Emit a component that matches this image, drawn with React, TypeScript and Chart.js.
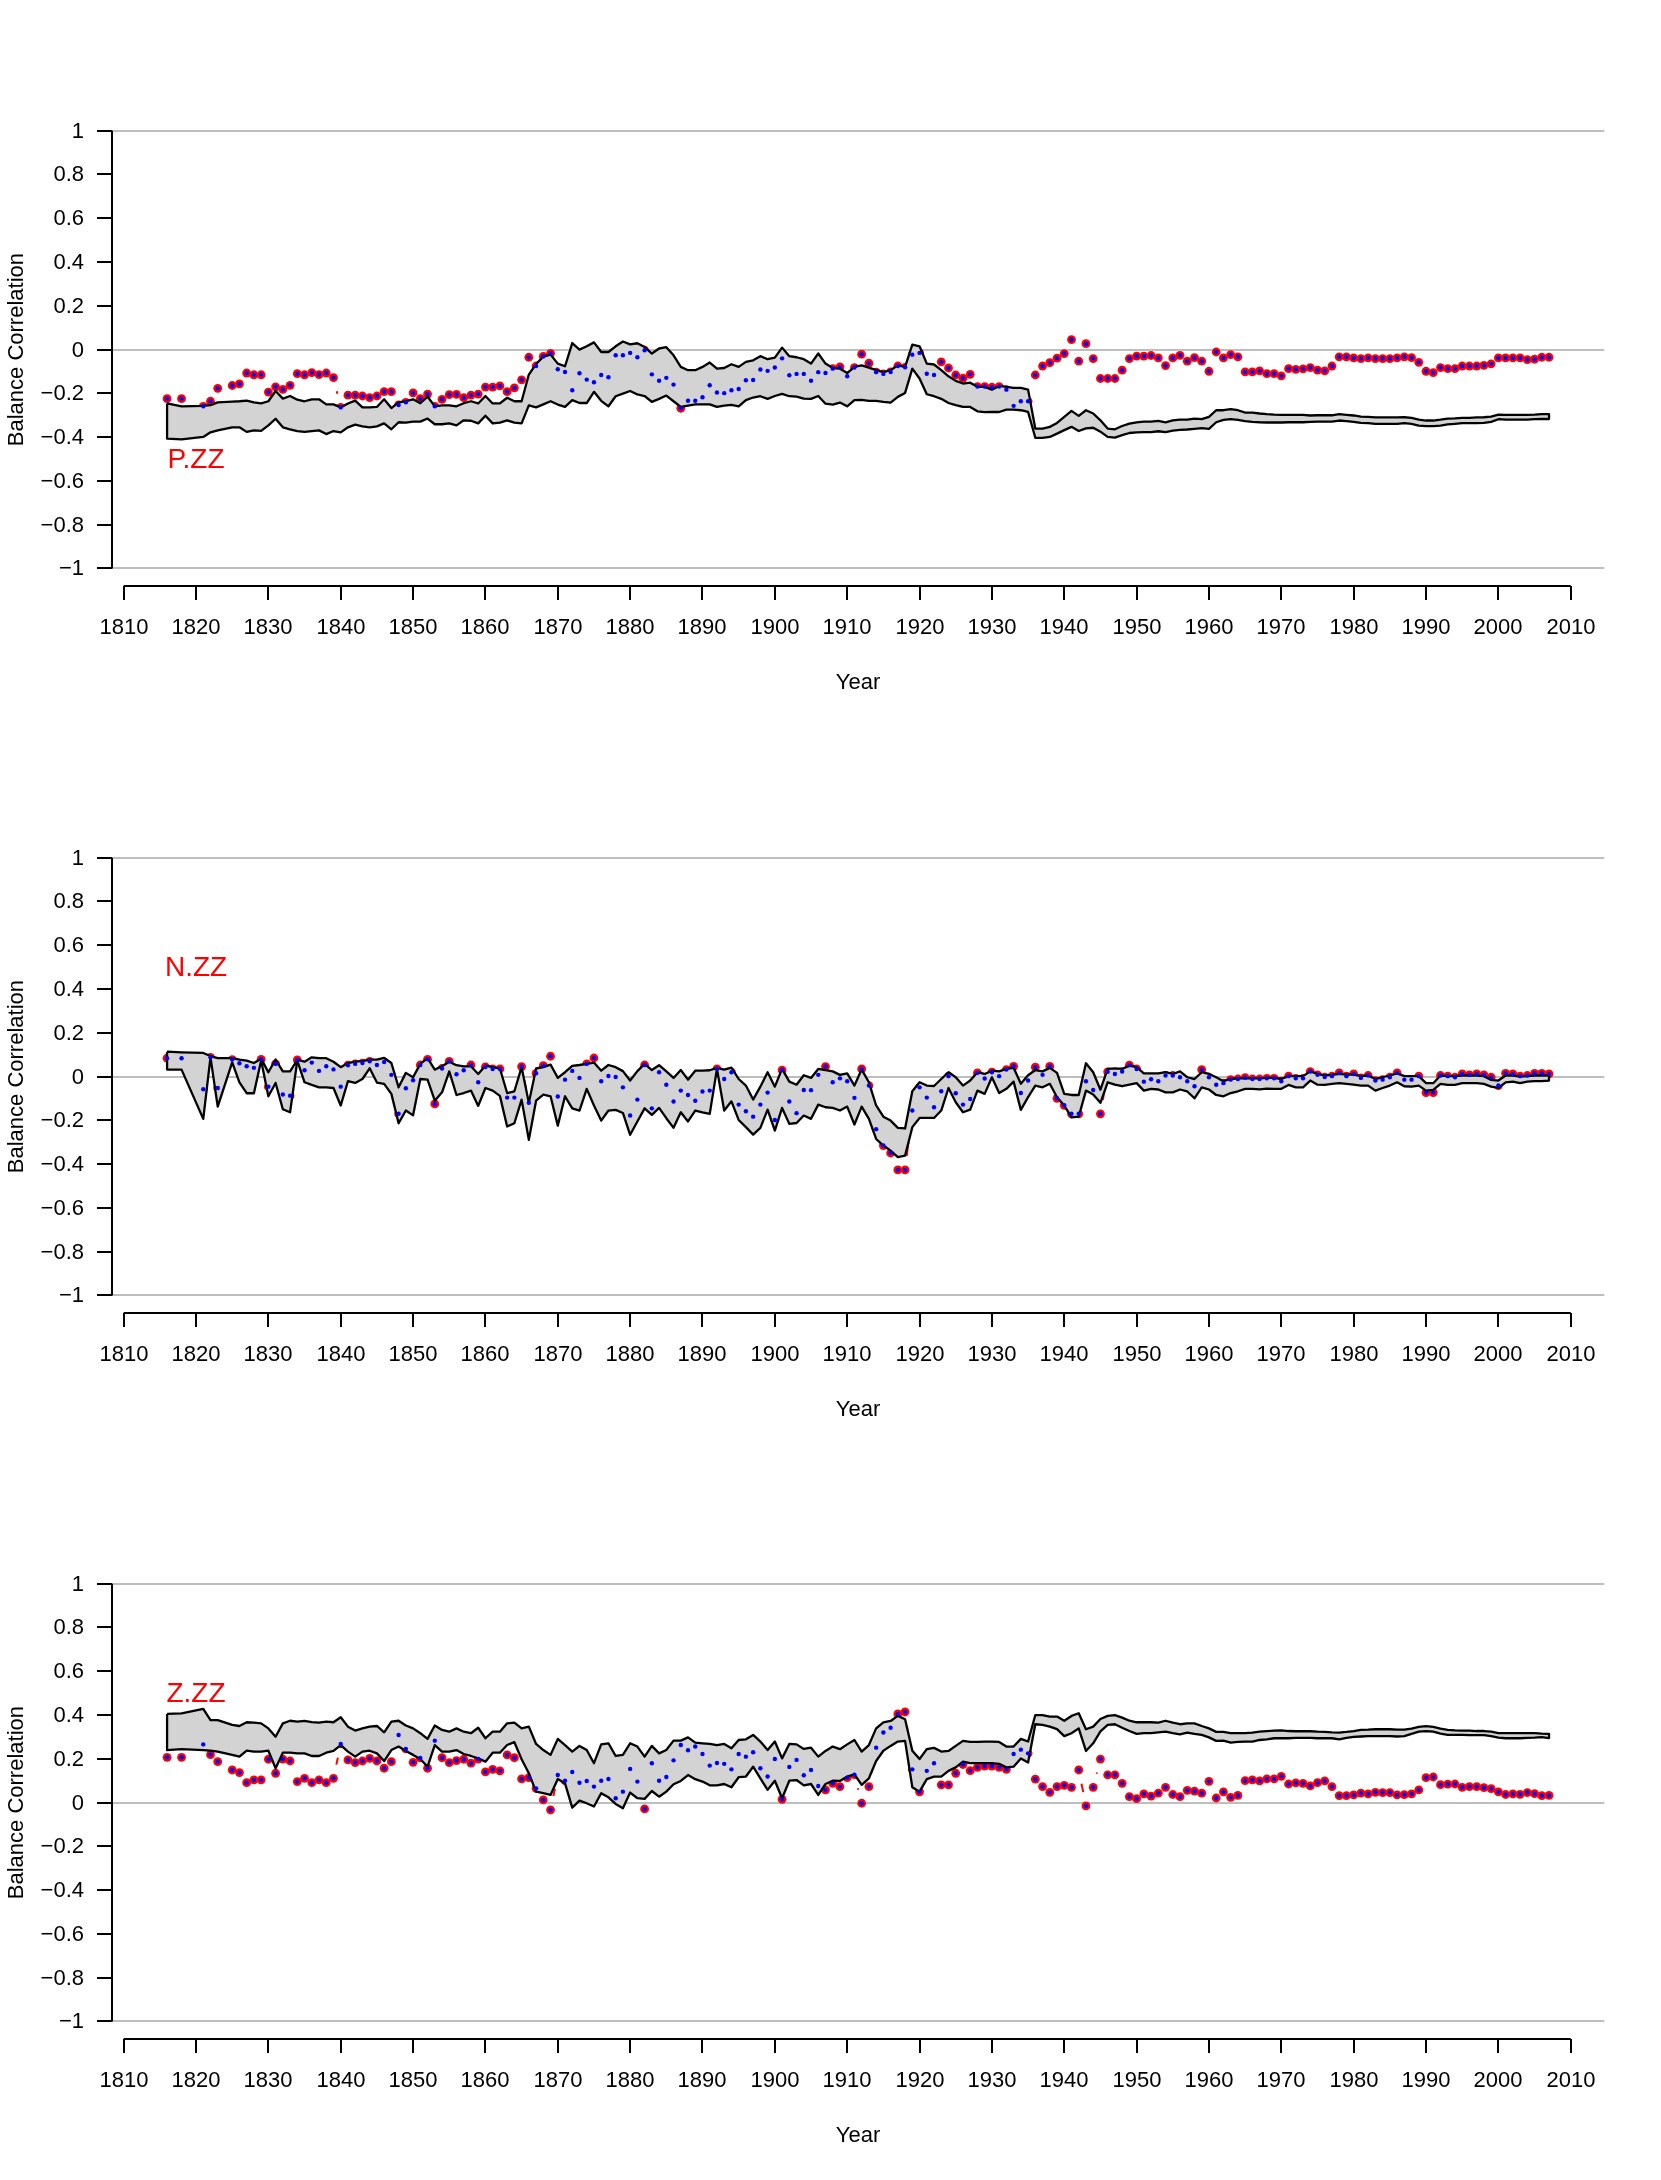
import React, { useEffect, useRef } from "react";
import { Chart, registerables } from "chart.js";

Chart.register(...registerables);

// ---------- categories / ticks ----------
const FIRST_YEAR = 1816;
const LAST_YEAR = 2007;
const YEARS: number[] = Array.from({ length: LAST_YEAR - FIRST_YEAR + 1 }, (_, i) => FIRST_YEAR + i);
const X_TICKS = [1810, 1820, 1830, 1840, 1850, 1860, 1870, 1880, 1890, 1900, 1910, 1920, 1930, 1940, 1950, 1960, 1970, 1980, 1990, 2000, 2010];
const Y_TICKS = [1, 0.8, 0.6, 0.4, 0.2, 0, -0.2, -0.4, -0.6, -0.8, -1];
const Y_TICK_LABELS = ["1", "0.8", "0.6", "0.4", "0.2", "0", "\u22120.2", "\u22120.4", "\u22120.6", "\u22120.8", "\u22121"];
const GRID_VALUES = [1, 0, -1];

// ---------- P.ZZ ----------
const pZZ_values = [
  -0.224, null, -0.224, null,
  null, -0.259, -0.236, -0.177, null, -0.164, -0.157, -0.107, -0.115, -0.115,
  -0.194, -0.170, -0.182, -0.163, -0.110, -0.115, -0.105, -0.114, -0.107, -0.128,
  -0.264, -0.208, -0.208, -0.212, -0.219, -0.212, -0.192, -0.192, -0.253, -0.241,
  -0.198, -0.224, -0.203, -0.259, -0.227, -0.206, -0.205, -0.220, -0.208, -0.203,
  -0.171, -0.171, -0.166, -0.192, -0.175, -0.138, -0.035, -0.075, -0.031, -0.017,
  -0.090, -0.102, -0.186, -0.108, -0.137, -0.149, -0.116, -0.126, -0.026, -0.026,
  -0.015, -0.035, -0.003, -0.113, -0.142, -0.129, -0.160, -0.268, -0.234, -0.234,
  -0.218, -0.163, -0.196, -0.199, -0.186, -0.180, -0.140, -0.139, -0.091, -0.097,
  -0.082, -0.040, -0.117, -0.111, -0.111, -0.142, -0.103, -0.107, -0.087, -0.079,
  -0.122, -0.082, -0.021, -0.062, -0.103, -0.111, -0.102, -0.075, -0.081, -0.023,
  -0.015, -0.110, -0.116, -0.056, -0.084, -0.116, -0.131, -0.113, -0.169, -0.169,
  -0.172, -0.169, -0.183, -0.257, -0.236, -0.236, -0.116, -0.075, -0.060, -0.039,
  -0.018, 0.046, -0.053, 0.027, -0.041, -0.132, -0.132, -0.132, -0.094, -0.041,
  -0.030, -0.030, -0.027, -0.038, -0.073, -0.038, -0.026, -0.053, -0.037, -0.053,
  -0.099, -0.011, -0.038, -0.023, -0.033, -0.102, -0.102, -0.097, -0.110, -0.110,
  -0.120, -0.087, -0.090, -0.088, -0.082, -0.094, -0.097, -0.075, -0.033, -0.033,
  -0.038, -0.041, -0.038, -0.041, -0.041, -0.041, -0.038, -0.033, -0.037, -0.058,
  -0.099, -0.105, -0.082, -0.087, -0.087, -0.075, -0.075, -0.075, -0.072, -0.065,
  -0.038, -0.038, -0.038, -0.038, -0.046, -0.044, -0.035, -0.035,
];
const pZZ_upper = [
  -0.246, null, -0.259, null,
  null, -0.257, -0.254, -0.241, null, -0.238, -0.236, -0.233, -0.241, -0.246,
  -0.236, -0.189, -0.224, -0.212, -0.229, -0.236, -0.227, -0.227, -0.250, -0.250,
  -0.264, -0.246, -0.233, -0.264, -0.264, -0.262, -0.227, -0.267, -0.241, -0.236,
  -0.227, -0.245, -0.215, -0.259, -0.255, -0.255, -0.259, -0.245, -0.236, -0.246,
  -0.212, -0.246, -0.246, -0.220, -0.236, -0.236, -0.114, -0.066, -0.032, -0.023,
  -0.064, -0.076, 0.030, 0.000, 0.015, 0.033, -0.011, -0.011, 0.015, 0.037,
  0.024, 0.029, 0.012, -0.018, 0.005, 0.011, -0.026, -0.079, -0.094, -0.094,
  -0.079, -0.059, -0.087, -0.084, -0.067, -0.079, -0.056, -0.049, -0.030, -0.044,
  -0.037, 0.009, -0.030, -0.035, -0.044, -0.064, -0.018, -0.064, -0.084, -0.087,
  -0.107, -0.079, -0.072, -0.082, -0.094, -0.103, -0.094, -0.072, -0.079, 0.023,
  0.015, -0.064, -0.068, -0.094, -0.122, -0.143, -0.155, -0.151, -0.170, -0.170,
  -0.183, -0.166, -0.170, -0.175, -0.175, -0.183, -0.361, -0.361, -0.353, -0.335,
  -0.307, -0.280, -0.303, -0.277, -0.292, -0.323, -0.361, -0.364, -0.349, -0.338,
  -0.332, -0.329, -0.329, -0.326, -0.332, -0.323, -0.320, -0.320, -0.315, -0.318,
  -0.307, -0.277, -0.277, -0.272, -0.277, -0.288, -0.288, -0.292, -0.295, -0.297,
  -0.298, -0.298, -0.298, -0.298, -0.301, -0.300, -0.300, -0.300, -0.295, -0.298,
  -0.301, -0.306, -0.307, -0.310, -0.310, -0.310, -0.310, -0.309, -0.312, -0.320,
  -0.324, -0.324, -0.320, -0.315, -0.314, -0.312, -0.312, -0.310, -0.309, -0.306,
  -0.297, -0.298, -0.298, -0.298, -0.298, -0.297, -0.295, -0.295,
];
const pZZ_lower = [
  -0.407, null, -0.410, null,
  null, -0.399, -0.378, -0.369, null, -0.355, -0.355, -0.376, -0.369, -0.371,
  -0.346, -0.316, -0.355, -0.364, -0.372, -0.376, -0.372, -0.369, -0.386, -0.372,
  -0.378, -0.355, -0.343, -0.351, -0.355, -0.351, -0.337, -0.364, -0.332, -0.334,
  -0.329, -0.329, -0.315, -0.341, -0.341, -0.337, -0.346, -0.323, -0.325, -0.337,
  -0.302, -0.337, -0.334, -0.323, -0.334, -0.337, -0.255, -0.264, -0.250, -0.236,
  -0.251, -0.262, -0.231, -0.244, -0.244, -0.193, -0.234, -0.259, -0.213, -0.201,
  -0.189, -0.205, -0.212, -0.239, -0.225, -0.210, -0.236, -0.262, -0.256, -0.250,
  -0.250, -0.250, -0.262, -0.256, -0.253, -0.259, -0.231, -0.219, -0.213, -0.225,
  -0.212, -0.202, -0.213, -0.215, -0.224, -0.225, -0.212, -0.247, -0.251, -0.242,
  -0.259, -0.231, -0.230, -0.234, -0.234, -0.239, -0.242, -0.216, -0.198, -0.087,
  -0.132, -0.204, -0.213, -0.225, -0.244, -0.254, -0.262, -0.262, -0.282, -0.286,
  -0.285, -0.285, -0.274, -0.274, -0.277, -0.285, -0.403, -0.403, -0.399, -0.384,
  -0.368, -0.353, -0.372, -0.360, -0.357, -0.375, -0.399, -0.402, -0.391, -0.381,
  -0.378, -0.377, -0.377, -0.373, -0.377, -0.370, -0.367, -0.365, -0.362, -0.359,
  -0.362, -0.332, -0.321, -0.318, -0.321, -0.327, -0.330, -0.332, -0.333, -0.333,
  -0.333, -0.332, -0.332, -0.332, -0.330, -0.329, -0.329, -0.329, -0.324, -0.327,
  -0.330, -0.335, -0.336, -0.339, -0.339, -0.339, -0.339, -0.336, -0.339, -0.347,
  -0.350, -0.350, -0.347, -0.342, -0.339, -0.336, -0.336, -0.336, -0.335, -0.330,
  -0.318, -0.320, -0.320, -0.320, -0.320, -0.318, -0.317, -0.317,
];

// ---------- N.ZZ ----------
const nZZ_values = [
  0.084, null, 0.084, null,
  null, -0.058, 0.088, -0.052, null, 0.078, 0.061, 0.047, 0.040, 0.079,
  -0.046, 0.058, -0.082, -0.087, 0.076, 0.029, 0.064, 0.026, 0.047, 0.033,
  -0.046, 0.052, 0.058, 0.062, 0.070, 0.053, 0.067, 0.008, -0.170, -0.053,
  -0.017, 0.053, 0.079, -0.125, 0.037, 0.070, 0.011, 0.029, 0.053, -0.026,
  0.044, 0.035, 0.035, -0.096, -0.096, 0.046, -0.120, 0.015, 0.050, 0.093,
  -0.091, -0.014, 0.026, -0.006, 0.058, 0.085, -0.021, 0.003, -0.002, -0.049,
  -0.178, -0.105, 0.053, -0.145, 0.020, -0.037, -0.114, -0.064, -0.084, -0.110,
  -0.068, -0.064, 0.035, -0.011, 0.020, -0.128, -0.158, -0.183, -0.128, -0.073,
  -0.198, 0.030, -0.114, -0.167, -0.061, -0.062, 0.008, 0.046, -0.026, -0.008,
  -0.021, -0.097, 0.035, -0.041, -0.240, -0.315, -0.349, -0.426, -0.426, -0.155,
  -0.049, -0.096, -0.140, -0.067, 0.002, -0.076, -0.128, -0.102, 0.017, -0.009,
  0.020, 0.002, 0.032, 0.047, -0.075, -0.018, 0.043, 0.008, 0.047, -0.099,
  -0.131, -0.170, -0.170, -0.021, -0.061, -0.170, 0.022, 0.012, 0.023, 0.052,
  0.035, -0.023, -0.012, -0.021, 0.005, 0.005, -0.003, -0.021, -0.044, 0.032,
  -0.003, -0.037, -0.030, -0.014, -0.011, -0.005, -0.011, -0.011, -0.008, -0.008,
  -0.021, 0.002, -0.008, -0.008, 0.023, 0.008, -0.002, 0.002, 0.017, 0.002,
  0.012, -0.006, 0.005, -0.018, -0.014, -0.003, 0.017, -0.014, -0.014, 0.002,
  -0.073, -0.073, 0.005, 0.002, -0.003, 0.012, 0.008, 0.012, 0.008, -0.003,
  -0.041, 0.015, 0.012, 0.002, 0.005, 0.015, 0.015, 0.012,
];
const nZZ_upper = [
  0.114, null, 0.111, null,
  null, 0.108, 0.094, 0.084, null, 0.084, 0.078, 0.073, 0.062, 0.082,
  0.020, 0.078, 0.024, 0.024, 0.076, 0.068, 0.088, 0.084, 0.084, 0.068,
  0.043, 0.062, 0.068, 0.071, 0.078, 0.078, 0.085, 0.062, -0.049, 0.017,
  -0.003, 0.058, 0.084, 0.032, 0.047, 0.068, 0.052, 0.047, 0.047, 0.012,
  0.050, 0.043, 0.037, -0.075, -0.067, 0.043, -0.120, 0.037, 0.043, 0.055,
  -0.006, 0.020, 0.049, 0.053, 0.058, 0.064, 0.027, 0.053, 0.043, 0.025,
  -0.018, 0.025, 0.058, 0.030, 0.052, 0.024, -0.006, 0.030, -0.014, 0.027,
  0.027, 0.029, 0.040, 0.032, 0.041, -0.011, -0.041, -0.105, -0.046, 0.020,
  -0.046, 0.035, -0.023, -0.037, 0.006, -0.006, 0.035, 0.030, 0.024, 0.008,
  0.015, -0.041, 0.032, -0.026, -0.132, -0.183, -0.201, -0.234, -0.237, -0.067,
  -0.026, -0.041, -0.043, -0.011, 0.020, -0.003, -0.041, -0.018, 0.020, 0.012,
  0.027, 0.024, 0.035, 0.040, -0.033, 0.006, 0.030, 0.024, 0.040, 0.017,
  -0.079, -0.084, -0.084, 0.061, 0.020, -0.060, 0.035, 0.038, 0.035, 0.050,
  0.043, 0.015, 0.015, 0.015, 0.020, 0.012, 0.024, -0.003, -0.011, 0.020,
  0.012, -0.003, -0.021, -0.011, -0.008, -0.008, -0.008, -0.008, -0.006, -0.006,
  -0.011, 0.002, 0.002, 0.002, 0.024, 0.012, 0.005, 0.008, 0.012, 0.009,
  0.009, 0.002, 0.005, -0.011, -0.003, 0.005, 0.015, 0.002, 0.002, 0.002,
  -0.030, -0.030, 0.005, 0.002, 0.002, 0.005, 0.005, 0.005, 0.002, -0.015,
  -0.018, 0.005, 0.005, 0.000, 0.002, 0.005, 0.005, 0.005,
];
const nZZ_lower = [
  0.032, null, 0.032, null,
  null, -0.193, 0.088, -0.137, null, 0.065, -0.026, -0.076, -0.076, 0.073,
  -0.090, -0.029, -0.149, -0.163, 0.073, -0.026, -0.038, -0.049, -0.049, -0.052,
  -0.132, -0.021, -0.029, -0.011, 0.038, -0.027, -0.033, -0.079, -0.213, -0.155,
  -0.177, -0.011, -0.014, -0.110, -0.072, 0.024, -0.084, -0.075, -0.064, -0.134,
  -0.052, -0.064, -0.088, -0.228, -0.213, -0.105, -0.289, -0.110, -0.082, -0.090,
  -0.224, -0.090, -0.145, -0.155, -0.056, -0.132, -0.201, -0.155, -0.152, -0.166,
  -0.266, -0.205, -0.145, -0.175, -0.143, -0.190, -0.234, -0.163, -0.205, -0.155,
  -0.163, -0.170, 0.035, -0.155, -0.113, -0.198, -0.231, -0.265, -0.234, -0.151,
  -0.247, -0.143, -0.216, -0.212, -0.178, -0.193, -0.128, -0.140, -0.143, -0.155,
  -0.137, -0.219, -0.137, -0.193, -0.285, -0.315, -0.338, -0.368, -0.361, -0.231,
  -0.189, -0.189, -0.189, -0.155, -0.052, -0.117, -0.163, -0.151, -0.064, -0.079,
  -0.003, -0.075, -0.056, -0.023, -0.152, -0.094, -0.041, -0.049, -0.033, -0.094,
  -0.132, -0.186, -0.183, -0.064, -0.082, -0.120, -0.026, -0.037, -0.044, -0.037,
  -0.030, -0.064, -0.056, -0.059, -0.072, -0.072, -0.059, -0.068, -0.099, -0.049,
  -0.059, -0.084, -0.090, -0.075, -0.067, -0.056, -0.056, -0.058, -0.055, -0.056,
  -0.056, -0.038, -0.049, -0.049, -0.018, -0.037, -0.038, -0.033, -0.030, -0.033,
  -0.037, -0.041, -0.041, -0.064, -0.052, -0.041, -0.026, -0.044, -0.046, -0.041,
  -0.064, -0.061, -0.033, -0.038, -0.038, -0.030, -0.030, -0.030, -0.033, -0.046,
  -0.052, -0.026, -0.023, -0.030, -0.023, -0.021, -0.021, -0.018,
];

// ---------- Z.ZZ ----------
const zZZ_values = [
  0.207, null, 0.207, null,
  null, 0.266, 0.219, 0.187, null, 0.149, 0.137, 0.091, 0.104, 0.104,
  0.198, 0.134, 0.199, 0.190, 0.096, 0.111, 0.091, 0.104, 0.091, 0.111,
  0.268, 0.195, 0.183, 0.190, 0.202, 0.190, 0.157, 0.187, 0.309, 0.245,
  0.184, 0.204, 0.157, 0.283, 0.205, 0.183, 0.192, 0.198, 0.180, 0.199,
  0.140, 0.152, 0.145, 0.218, 0.205, 0.108, 0.114, 0.065, 0.012, -0.033,
  0.126, 0.100, 0.140, 0.091, 0.099, 0.073, 0.100, 0.108, 0.020, 0.050,
  0.154, 0.096, -0.029, 0.180, 0.100, 0.117, 0.193, 0.263, 0.239, 0.256,
  0.222, 0.169, 0.181, 0.177, 0.152, 0.222, 0.210, 0.230, 0.157, 0.119,
  0.199, 0.015, 0.163, 0.195, 0.125, 0.149, 0.076, 0.058, 0.088, 0.073,
  0.114, 0.128, -0.003, 0.073, 0.251, 0.320, 0.342, 0.405, 0.414, 0.152,
  0.049, 0.145, 0.180, 0.081, 0.081, 0.134, 0.174, 0.146, 0.161, 0.167,
  0.167, 0.161, 0.152, 0.222, 0.242, 0.225, 0.107, 0.073, 0.047, 0.073,
  0.079, 0.070, 0.149, -0.015, 0.070, 0.199, 0.127, 0.127, 0.088, 0.027,
  0.018, 0.040, 0.030, 0.043, 0.070, 0.037, 0.027, 0.056, 0.052, 0.043,
  0.097, 0.021, 0.049, 0.024, 0.033, 0.100, 0.104, 0.099, 0.108, 0.108,
  0.120, 0.085, 0.090, 0.088, 0.076, 0.091, 0.099, 0.073, 0.032, 0.032,
  0.035, 0.043, 0.040, 0.047, 0.046, 0.046, 0.035, 0.036, 0.040, 0.058,
  0.114, 0.117, 0.082, 0.084, 0.085, 0.070, 0.073, 0.073, 0.068, 0.064,
  0.049, 0.037, 0.040, 0.038, 0.046, 0.041, 0.032, 0.033,
];
const zZZ_upper = [
  0.405, null, 0.408, null,
  null, 0.428, 0.377, 0.377, null, 0.355, 0.350, 0.367, 0.365, 0.362,
  0.339, 0.301, 0.362, 0.374, 0.370, 0.373, 0.368, 0.365, 0.370, 0.367,
  0.390, 0.347, 0.329, 0.339, 0.347, 0.350, 0.321, 0.370, 0.374, 0.352,
  0.339, 0.317, 0.291, 0.352, 0.332, 0.324, 0.339, 0.324, 0.317, 0.342,
  0.294, 0.324, 0.324, 0.362, 0.365, 0.339, 0.347, 0.268, 0.240, 0.218,
  0.291, 0.263, 0.233, 0.259, 0.240, 0.180, 0.266, 0.271, 0.213, 0.218,
  0.271, 0.256, 0.210, 0.259, 0.225, 0.240, 0.283, 0.283, 0.298, 0.274,
  0.271, 0.268, 0.263, 0.268, 0.248, 0.286, 0.289, 0.309, 0.279, 0.240,
  0.279, 0.202, 0.268, 0.266, 0.245, 0.251, 0.210, 0.236, 0.256, 0.244,
  0.266, 0.286, 0.233, 0.263, 0.339, 0.367, 0.373, 0.396, 0.381, 0.237,
  0.199, 0.244, 0.250, 0.233, 0.236, 0.259, 0.282, 0.277, 0.277, 0.279,
  0.279, 0.277, 0.256, 0.256, 0.291, 0.279, 0.400, 0.400, 0.393, 0.393,
  0.374, 0.396, 0.408, 0.335, 0.347, 0.382, 0.396, 0.400, 0.388, 0.374,
  0.367, 0.368, 0.367, 0.365, 0.374, 0.365, 0.358, 0.362, 0.362, 0.350,
  0.339, 0.323, 0.323, 0.317, 0.317, 0.317, 0.320, 0.324, 0.327, 0.329,
  0.330, 0.327, 0.326, 0.326, 0.326, 0.324, 0.323, 0.321, 0.320, 0.323,
  0.327, 0.332, 0.333, 0.335, 0.335, 0.335, 0.333, 0.333, 0.338, 0.346,
  0.349, 0.346, 0.338, 0.332, 0.330, 0.329, 0.329, 0.327, 0.327, 0.324,
  0.317, 0.317, 0.317, 0.317, 0.317, 0.317, 0.315, 0.314,
];
const zZZ_lower = [
  0.240, null, 0.244, null,
  null, 0.240, 0.237, 0.233, null, 0.218, 0.210, 0.237, 0.233, 0.233,
  0.237, 0.157, 0.228, 0.228, 0.225, 0.225, 0.213, 0.213, 0.228, 0.236,
  0.263, 0.233, 0.210, 0.233, 0.237, 0.225, 0.190, 0.240, 0.256, 0.236,
  0.218, 0.199, 0.164, 0.263, 0.233, 0.233, 0.240, 0.222, 0.213, 0.202,
  0.187, 0.228, 0.228, 0.263, 0.276, 0.198, 0.134, 0.050, 0.043, 0.035,
  0.108, 0.088, -0.023, 0.009, -0.003, -0.018, 0.043, 0.024, -0.006, -0.026,
  0.046, 0.020, 0.017, 0.053, 0.027, 0.050, 0.084, 0.099, 0.126, 0.107,
  0.096, 0.079, 0.079, 0.085, 0.070, 0.116, 0.119, 0.164, 0.111, 0.058,
  0.100, 0.020, 0.100, 0.103, 0.079, 0.085, 0.035, 0.085, 0.100, 0.099,
  0.119, 0.129, 0.081, 0.111, 0.190, 0.237, 0.259, 0.279, 0.282, 0.070,
  0.050, 0.107, 0.119, 0.119, 0.145, 0.161, 0.187, 0.180, 0.180, 0.180,
  0.180, 0.177, 0.161, 0.164, 0.202, 0.183, 0.358, 0.355, 0.347, 0.336,
  0.304, 0.317, 0.339, 0.236, 0.271, 0.325, 0.355, 0.358, 0.342, 0.327,
  0.314, 0.317, 0.317, 0.321, 0.324, 0.317, 0.312, 0.320, 0.314, 0.309,
  0.298, 0.282, 0.283, 0.274, 0.277, 0.279, 0.279, 0.286, 0.289, 0.294,
  0.294, 0.294, 0.296, 0.296, 0.296, 0.294, 0.294, 0.294, 0.289, 0.296,
  0.300, 0.302, 0.304, 0.304, 0.304, 0.304, 0.302, 0.304, 0.314, 0.324,
  0.327, 0.324, 0.315, 0.309, 0.309, 0.309, 0.308, 0.308, 0.308, 0.304,
  0.297, 0.294, 0.294, 0.294, 0.296, 0.297, 0.299, 0.295,
];

const PANELS = [
  { name: "P.ZZ", nameY: -0.5, values: pZZ_values, upper: pZZ_upper, lower: pZZ_lower },
  { name: "N.ZZ", nameY: 0.5, values: nZZ_values, upper: nZZ_upper, lower: nZZ_lower },
  { name: "Z.ZZ", nameY: 0.5, values: zZZ_values, upper: zZZ_upper, lower: zZZ_lower },
];

const W = 1661;
const PANEL_H = 727;
const FONT = '"Liberation Sans", Arial, Helvetica, sans-serif';
const BAND_FILL = "#D3D3D3";
const GRID_COLOR = "#BEBEBE";

type Pt = { x: number; y: number };

function toPoints(arr: (number | null)[]): Pt[] {
  const out: Pt[] = [];
  YEARS.forEach((yr, i) => {
    const v = arr[i];
    if (v !== null && v !== undefined) out.push({ x: yr, y: v });
  });
  return out;
}

function Panel({ panel, top }: { panel: any; top: number }) {
  const ref = useRef<HTMLCanvasElement | null>(null);

  useEffect(() => {
    const canvas = ref.current;
    if (!canvas) return;
    const vals = toPoints(panel.values);
    const ups = toPoints(panel.upper);
    const los = toPoints(panel.lower);
    const outline = [...ups, ...los.slice().reverse(), ups[0]];

    const decor = {
      id: "decor",
      beforeDatasetsDraw(chart: any) {
        const { ctx, chartArea: a, scales } = chart;
        const x = scales.x;
        const y = scales.y;
        ctx.save();
        // horizontal reference lines
        ctx.strokeStyle = GRID_COLOR;
        ctx.lineWidth = 2;
        GRID_VALUES.forEach((v) => {
          const py = Math.round(y.getPixelForValue(v));
          ctx.beginPath();
          ctx.moveTo(a.left, py);
          ctx.lineTo(a.right, py);
          ctx.stroke();
        });
        // red "type b" connectors (gaps around each point)
        const GAP = 14;
        ctx.strokeStyle = "#FF0000";
        ctx.lineWidth = 2;
        for (let i = 1; i < YEARS.length; i++) {
          const v0 = panel.values[i - 1];
          const v1 = panel.values[i];
          if (v0 === null || v1 === null) continue;
          const x0 = x.getPixelForValue(YEARS[i - 1]);
          const y0 = y.getPixelForValue(v0);
          const x1 = x.getPixelForValue(YEARS[i]);
          const y1 = y.getPixelForValue(v1);
          const dx = x1 - x0;
          const dy = y1 - y0;
          const len = Math.hypot(dx, dy);
          if (len <= 2 * GAP) continue;
          const ux = dx / len;
          const uy = dy / len;
          ctx.beginPath();
          ctx.moveTo(x0 + ux * GAP, y0 + uy * GAP);
          ctx.lineTo(x1 - ux * GAP, y1 - uy * GAP);
          ctx.stroke();
        }
        ctx.restore();
      },
      afterDraw(chart: any) {
        const { ctx, chartArea: a, scales } = chart;
        const x = scales.x;
        const y = scales.y;
        ctx.save();
        ctx.strokeStyle = "#000";
        ctx.fillStyle = "#000";
        ctx.lineWidth = 2;
        // y axis
        const yTop = y.getPixelForValue(1);
        const yBot = y.getPixelForValue(-1);
        const ax = Math.round(a.left);
        ctx.beginPath();
        ctx.moveTo(ax, yTop);
        ctx.lineTo(ax, yBot);
        ctx.stroke();
        ctx.font = `22px ${FONT}`;
        ctx.textAlign = "right";
        ctx.textBaseline = "middle";
        Y_TICKS.forEach((v, i) => {
          const py = Math.round(y.getPixelForValue(v));
          ctx.beginPath();
          ctx.moveTo(ax - 15, py);
          ctx.lineTo(ax, py);
          ctx.stroke();
          ctx.fillText(Y_TICK_LABELS[i], ax - 28, py + 1);
        });
        // x axis
        const by = Math.round(a.bottom);
        const xl = x.getPixelForValue(X_TICKS[0]);
        const xr = x.getPixelForValue(X_TICKS[X_TICKS.length - 1]);
        ctx.beginPath();
        ctx.moveTo(xl, by);
        ctx.lineTo(xr, by);
        ctx.stroke();
        ctx.textAlign = "center";
        X_TICKS.forEach((v) => {
          const px = Math.round(x.getPixelForValue(v));
          ctx.beginPath();
          ctx.moveTo(px, by);
          ctx.lineTo(px, by + 14);
          ctx.stroke();
          ctx.fillText(String(v), px, by + 42);
        });
        // axis titles
        ctx.fillText("Year", (a.left + a.right) / 2, by + 97);
        ctx.save();
        ctx.translate(17, (a.top + a.bottom) / 2);
        ctx.rotate(-Math.PI / 2);
        ctx.fillText("Balance Correlation", 0, 0);
        ctx.restore();
        // panel label
        ctx.fillStyle = "#FF0000";
        ctx.font = `28px ${FONT}`;
        ctx.fillText(panel.name, x.getPixelForValue(1820), y.getPixelForValue(panel.nameY) + 1);
        ctx.restore();
      },
    };

    const chart = new Chart(canvas, {
      type: "line",
      data: {
        datasets: [
          {
            data: vals,
            showLine: false,
            pointRadius: 4.4,
            pointBackgroundColor: "#FF0000",
            pointBorderWidth: 0,
            pointHoverRadius: 0,
            order: 4,
          } as any,
          {
            data: ups,
            borderWidth: 0,
            borderColor: "rgba(0,0,0,0)",
            pointRadius: 0,
            tension: 0,
            fill: "+1",
            backgroundColor: BAND_FILL,
            order: 3,
          },
          {
            data: los,
            borderWidth: 0,
            borderColor: "rgba(0,0,0,0)",
            pointRadius: 0,
            tension: 0,
            fill: false,
            order: 3,
          },
          {
            data: outline,
            borderWidth: 2.3,
            borderColor: "#000000",
            borderJoinStyle: "round",
            pointRadius: 0,
            tension: 0,
            fill: false,
            order: 2,
          },
          {
            data: vals,
            showLine: false,
            pointRadius: 2.2,
            pointBackgroundColor: "#0000FF",
            pointBorderWidth: 0,
            pointHoverRadius: 0,
            order: 1,
          } as any,
        ],
      },
      options: {
        responsive: false,
        maintainAspectRatio: false,
        devicePixelRatio: 1,
        animation: false,
        parsing: false as any,
        normalized: false,
        events: [],
        layout: { padding: { left: 111.8, right: W - 1604.3, top: 113.2, bottom: PANEL_H - 586 } },
        plugins: { legend: { display: false }, tooltip: { enabled: false } },
        scales: {
          x: { type: "linear", min: 1808.36, max: 2014.64, display: false },
          y: { type: "linear", min: -1.08, max: 1.08, display: false },
        },
      },
      plugins: [decor],
    });
    return () => chart.destroy();
  }, [panel]);

  return (
    <canvas
      ref={ref}
      width={W}
      height={PANEL_H}
      style={{ position: "absolute", left: 0, top, width: W, height: PANEL_H, display: "block" }}
    />
  );
}

export default function App() {
  return (
    <div style={{ position: "absolute", left: 0, top: 0, width: W, height: 2180, background: "#fff", overflow: "hidden" }}>
      {PANELS.map((p, i) => (
        <Panel key={p.name} panel={p} top={Math.round(i * 726.67)} />
      ))}
    </div>
  );
}
